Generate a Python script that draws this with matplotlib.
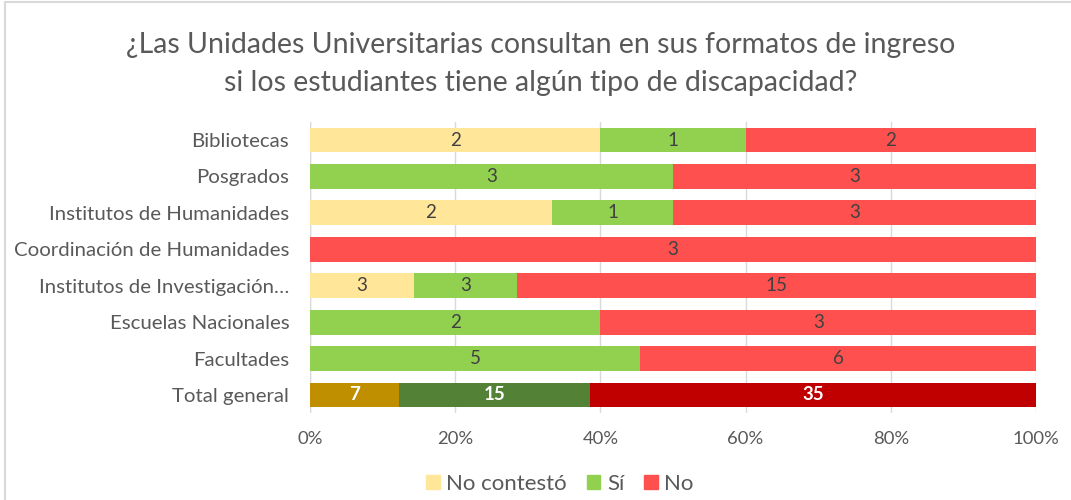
import matplotlib
matplotlib.use('Agg')
from matplotlib import pyplot as plt
from matplotlib.patches import Rectangle, Patch
import numpy as np

categorias = ['Bibliotecas', 'Posgrados', 'Institutos de Humanidades',
              'Coordinación de Humanidades', 'Institutos de Investigación…',
              'Escuelas Nacionales', 'Facultades', 'Total general']
no_contesto = [2, 0, 2, 0, 3, 0, 0, 7]
si = [1, 3, 1, 0, 3, 2, 5, 15]
no = [2, 3, 3, 3, 15, 3, 6, 35]
series = ['No contestó', 'Sí', 'No']
ticks_x = [0, 0.2, 0.4, 0.6, 0.8, 1.0]

plt.rcParams['font.family'] = ['Lato', 'DejaVu Sans']

colores = ['#FFE699', '#92D050', '#FF5050']
colores_total = ['#BF8F00', '#538135', '#C00000']

fig = plt.figure(figsize=(10.71, 5), dpi=100)
ax = fig.add_axes([310/1071, 1-413.2/500, 726/1071, 291.4/500])

datos = np.array([no_contesto, si, no], dtype=float)
totales = datos.sum(axis=0)
frac = datos / totales
y = np.arange(len(categorias))
izq = np.zeros(len(categorias))
n = len(categorias)
for k in range(3):
    cols = [colores_total[k] if i == n-1 else colores[k] for i in range(n)]
    ax.barh(y, frac[k], left=izq, height=0.68, color=cols, zorder=2)
    for i in range(n):
        if datos[k, i] > 0:
            cx = izq[i] + frac[k, i]/2
            if i == n-1:
                ax.text(cx, y[i], '%d' % datos[k, i], ha='center', va='center',
                        color='white', fontsize=13.5, fontweight='bold', zorder=3)
            else:
                ax.text(cx, y[i], '%d' % datos[k, i], ha='center', va='center',
                        color='#404040', fontsize=13.5, zorder=3)
    izq += frac[k]

ax.set_ylim(n-0.5, -0.5)
ax.set_xlim(0, 1)
ax.set_yticks(y)
ax.set_yticklabels(categorias, fontsize=14.7, color='#595959')
ax.set_xticks(ticks_x)
ax.set_xticklabels(['%d%%' % round(t*100) for t in ticks_x], fontsize=13.3, color='#595959')
ax.tick_params(length=0)
ax.tick_params(axis='x', pad=13)
ax.tick_params(axis='y', pad=15)
ax.xaxis.grid(True, color='#D9D9D9', linewidth=1, zorder=0)
for s in ax.spines.values():
    s.set_visible(False)
ax.axvline(0, color='#D9D9D9', linewidth=1, zorder=1)

fig.text(541/1071, 1-45/500, '¿Las Unidades Universitarias consultan en sus formatos de ingreso',
         ha='center', va='center', fontsize=20.5, color='#595959')
fig.text(541/1071, 1-83/500, 'si los estudiantes tiene algún tipo de discapacidad?',
         ha='center', va='center', fontsize=20.5, color='#595959')

handles = [Patch(color=c) for c in colores]
fig.legend(handles, series, loc='center', bbox_to_anchor=(560/1071, 1-484/500),
           ncol=3, frameon=False, fontsize=16, handlelength=0.6, handleheight=0.6,
           handletextpad=0.3, columnspacing=0.9, labelcolor='#595959')

fig.patches.append(Rectangle((5/1071, -0.1), 1.2, 1-2/500+0.1, transform=fig.transFigure,
                             fill=False, edgecolor='#D9D9D9', linewidth=1.5))

fig.savefig('out.png', dpi=100)
